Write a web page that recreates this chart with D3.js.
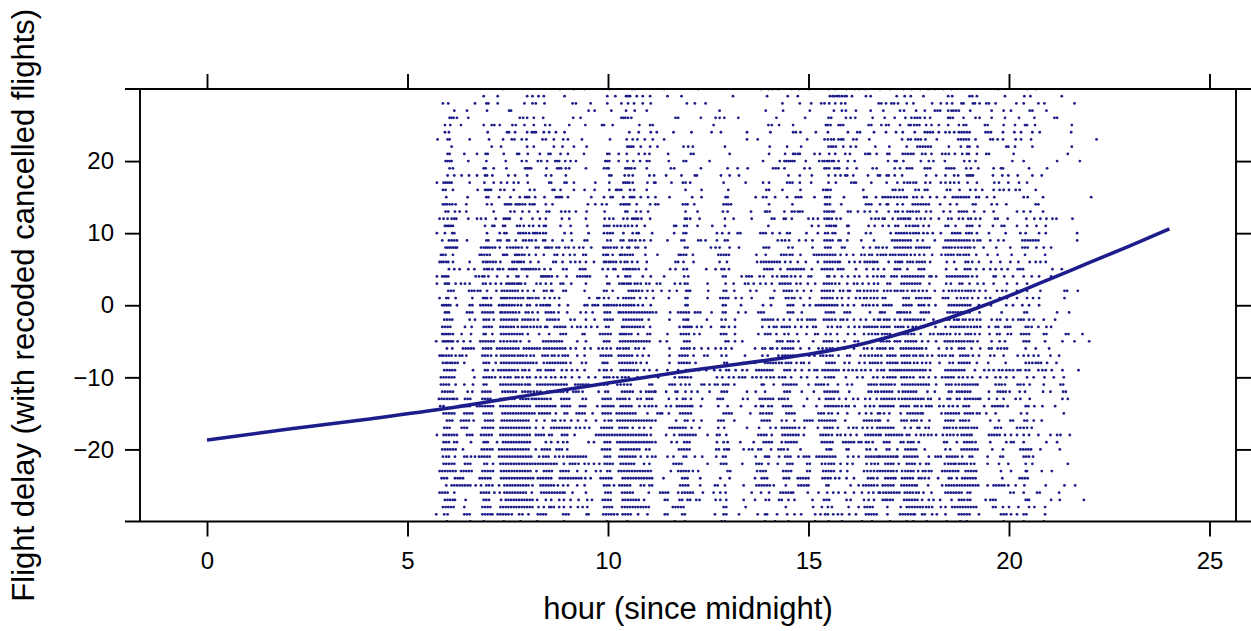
<!DOCTYPE html>
<html><head><meta charset="utf-8">
<script src="https://cdn.jsdelivr.net/npm/d3@7"></script>
<style>
body{margin:0;background:#fff}
svg{display:block}
text{font-family:"Liberation Sans",Arial,Helvetica,sans-serif;fill:#000}
</style></head>
<body><svg id="chart" width="1251" height="631"></svg>
<script>
// Flight delay (minutes) rows, top to bottom
const delays = [30,29,28,27,26,25,24,23,22,21,20,19,18,17,16,15,14,13,12,11,10,9,8,7,6,5,4,3,2,1,0,
  -1,-2,-3,-4,-5,-6,-7,-8,-9,-10,-11,-12,-13,-14,-15,-16,-17,-18,-19,-20,-21,-22,-23,-24,-25,-26,-27,-28,-29,-30];
// Departure times (minutes after midnight) of the flights in each delay row
const depMinutes = [
"443 528 549 565 602 636 640 684 735 829 840 846 855 875 886 901 930 940 957 969 976 985 1007 1022 1042 1054 1067 1079 1089 1102 1114 1184 1227 1240",
"414 435 479 487 496 504 535 599 611 627 630 633 643 652 663 689 710 787 838 869 884 932 936 939 943 946 950 954 957 965 986 993 1032 1044 1053 1072 1109 1115 1141 1145 1152 1194 1223 1232 1279",
"353 361 401 418 421 435 475 487 492 505 547 552 574 599 620 630 639 652 664 718 730 746 861 887 904 919 924 931 940 949 955 1005 1009 1016 1024 1028 1034 1047 1057 1085 1098 1107 1115 1129 1132 1146 1149 1156 1166 1170 1180 1211 1222 1244 1253 1298",
"370 389 419 452 455 571 580 605 627 640 658 767 836 862 902 938 950 956 971 993 1012 1037 1043 1061 1074 1089 1093 1097 1109 1114 1117 1121 1125 1142 1174 1192 1203 1231 1235 1256",
"363 366 369 374 391 468 473 479 489 503 548 559 620 623 626 630 635 701 705 739 761 767 774 795 852 895 930 934 956 963 970 996 1014 1029 1045 1054 1059 1063 1067 1074 1082 1109 1112 1116 1132 1150 1156 1174 1194 1215 1238 1268 1272",
"356 364 380 414 426 430 438 457 462 475 489 506 513 542 566 591 594 607 647 663 667 758 840 845 856 877 926 929 933 945 948 952 990 994 1009 1016 1020 1037 1050 1053 1058 1062 1066 1076 1084 1095 1109 1125 1132 1136 1164 1168 1192 1209 1224 1227 1239 1294",
"356 362 420 449 452 461 479 486 489 492 504 512 522 535 632 646 664 673 698 725 755 769 808 843 877 881 888 911 929 959 973 977 998 1016 1031 1041 1059 1074 1078 1082 1086 1095 1105 1111 1118 1125 1129 1133 1137 1141 1165 1169 1173 1191 1208 1218 1235 1246 1293",
"345 360 363 393 422 443 456 460 471 478 502 507 519 533 540 561 603 628 637 644 655 667 684 808 824 898 924 929 934 938 945 949 952 967 972 991 1040 1049 1053 1060 1064 1068 1075 1092 1124 1128 1132 1136 1140 1150 1172 1176 1183 1191 1210 1218 1233 1331",
"366 426 440 479 489 519 532 549 568 629 632 635 638 649 663 674 713 720 727 775 842 868 889 930 934 937 941 952 963 971 1000 1021 1047 1063 1067 1071 1075 1079 1083 1110 1128 1138 1141 1153 1196 1199 1209 1235 1294",
"360 363 385 404 417 420 444 464 467 480 498 511 514 529 540 564 599 602 616 628 646 655 662 690 724 728 782 841 865 877 880 884 887 909 917 931 940 955 962 985 989 992 1002 1018 1021 1041 1045 1049 1053 1057 1070 1075 1084 1100 1105 1110 1119 1130 1137 1140 1152 1166 1170 1207 1288",
"357 360 363 366 391 418 447 471 478 495 500 509 521 524 527 536 544 552 596 599 602 616 629 638 648 658 662 691 713 717 752 832 857 864 867 870 873 876 879 896 916 921 924 928 931 935 938 945 959 969 1019 1029 1032 1042 1068 1080 1087 1104 1133 1141 1150 1205 1222 1272 1306",
"363 368 414 417 429 448 476 479 482 485 508 524 527 530 537 542 567 594 598 601 626 629 632 635 640 658 694 699 739 779 794 809 847 851 855 864 894 902 924 927 931 939 943 946 958 972 996 1002 1029 1037 1047 1051 1055 1074 1078 1082 1106 1110 1114 1118 1136 1143 1154 1177 1188 1191 1230 1257",
"360 370 381 392 404 416 419 427 451 461 479 507 515 537 602 605 625 631 637 662 669 687 710 730 733 769 782 796 870 887 905 930 940 948 955 958 967 989 1004 1007 1017 1020 1029 1040 1076 1091 1105 1118 1124 1137 1140 1143 1146 1176 1190 1199 1213 1235 1249",
"344 354 357 360 363 366 393 415 429 440 449 459 466 480 512 515 535 538 549 581 602 623 626 629 632 637 659 669 671 695 712 716 723 773 806 832 841 868 872 876 887 904 930 941 964 968 971 994 1017 1033 1043 1048 1052 1057 1061 1075 1082 1098 1105 1112 1118 1125 1138 1152 1178 1185 1199 1215 1227",
"353 357 368 405 416 419 422 425 439 445 459 483 490 517 520 529 549 565 580 602 612 614 617 620 633 639 658 716 740 780 837 841 861 888 922 926 929 933 982 1026 1030 1036 1041 1060 1065 1074 1078 1107 1112 1126 1142 1150 1160 1177 1186 1192 1200 1210 1216 1240",
"358 390 418 421 437 454 468 476 479 482 491 505 522 525 528 531 540 575 594 604 607 623 633 636 639 649 660 671 692 726 740 776 779 821 832 837 850 868 881 885 889 909 925 928 932 953 983 987 1001 1011 1015 1019 1023 1028 1033 1038 1043 1047 1057 1062 1070 1082 1092 1104 1116 1120 1124 1128 1132 1136 1140 1151 1155 1167 1178 1222 1228 1251 1323",
"353 356 359 363 367 372 388 419 426 446 449 452 455 462 465 468 472 476 483 487 490 507 517 570 581 591 598 619 623 626 629 632 643 663 671 675 712 716 719 729 773 777 780 784 841 876 925 928 932 949 986 990 994 1007 1017 1019 1033 1041 1056 1060 1064 1068 1072 1076 1080 1097 1112 1122 1146 1150 1174 1182 1196 1240 1244",
"357 361 371 378 388 429 454 460 472 482 495 508 512 530 536 542 552 568 595 626 629 642 649 660 716 734 772 779 814 835 838 842 864 875 879 884 887 891 924 928 931 935 938 959 963 974 984 992 1002 1020 1030 1034 1041 1048 1052 1056 1061 1065 1076 1083 1102 1112 1125 1129 1133 1137 1148 1163 1177 1212 1222 1232 1251",
"348 354 360 366 370 373 391 404 410 417 432 444 447 450 453 470 487 498 507 531 542 567 595 602 608 623 629 636 639 642 645 650 663 715 718 723 737 775 788 815 845 849 863 866 875 900 907 914 924 928 931 935 942 948 994 1000 1005 1011 1014 1026 1034 1038 1042 1045 1049 1052 1062 1068 1074 1083 1095 1109 1114 1125 1131 1139 1143 1150 1157 1179 1183 1198 1226 1238 1247 1256 1265 1271 1295",
"356 359 362 365 368 416 427 430 443 446 464 468 474 482 488 497 504 507 529 544 569 594 598 602 609 614 619 625 630 636 643 655 699 702 714 718 734 756 775 840 905 915 927 931 934 938 941 958 960 990 999 1011 1020 1030 1034 1046 1051 1056 1060 1064 1072 1080 1105 1109 1120 1137 1141 1145 1156 1176 1189 1193 1212 1227 1241 1255",
"344 356 367 370 419 438 445 448 466 469 473 477 482 488 491 494 498 503 507 535 545 571 594 599 603 607 623 637 643 646 666 699 713 717 763 771 781 794 798 828 832 836 846 857 868 872 897 914 925 929 936 940 960 986 993 1023 1031 1035 1039 1043 1047 1052 1057 1061 1065 1072 1078 1086 1098 1115 1119 1123 1127 1136 1140 1144 1152 1170 1195 1217 1225 1245 1255 1302",
"352 362 366 370 374 389 418 421 435 439 449 452 462 473 477 482 486 492 503 506 517 532 546 565 569 599 604 619 623 632 636 641 648 654 664 689 710 714 735 739 746 763 775 779 854 860 865 871 886 896 906 924 928 932 936 945 948 958 979 998 1025 1029 1033 1037 1041 1045 1049 1053 1063 1071 1089 1105 1109 1113 1117 1121 1125 1129 1133 1137 1141 1147 1153 1157 1172 1184 1192 1220 1224 1228 1232 1236 1240 1244 1302",
"357 360 363 366 369 372 374 410 414 417 420 423 427 431 438 449 454 458 462 466 471 479 492 496 506 509 512 516 523 527 536 541 549 557 563 575 593 596 600 604 609 613 621 629 632 641 645 656 715 719 754 761 767 782 796 833 837 841 870 876 906 925 929 933 950 954 982 992 1001 1005 1011 1017 1029 1033 1037 1041 1045 1049 1053 1061 1065 1069 1073 1077 1081 1102 1106 1110 1114 1119 1124 1129 1134 1138 1142 1148 1162 1181 1202 1220 1224 1228 1241 1252 1263",
"350 353 357 368 408 411 415 419 423 443 446 449 461 464 467 471 475 482 492 504 520 524 533 543 550 563 567 593 597 600 607 618 621 625 629 633 637 656 674 706 709 713 717 727 765 769 773 777 781 822 836 859 863 867 872 876 888 908 912 916 920 924 928 932 936 940 948 957 967 979 984 991 995 1003 1008 1012 1016 1022 1026 1030 1035 1039 1043 1047 1053 1059 1066 1073 1085 1099 1105 1109 1113 1117 1123 1127 1132 1136 1140 1151 1168 1183 1204 1224 1254",
"348 351 354 358 361 368 393 413 417 420 424 428 432 439 457 460 464 467 470 474 484 496 518 522 532 544 551 558 567 579 594 597 601 604 608 612 619 625 629 636 644 658 701 705 713 728 767 778 823 829 833 837 841 845 849 853 857 865 873 884 896 914 924 928 932 936 940 944 947 961 969 977 984 988 992 996 999 1003 1020 1030 1034 1037 1040 1048 1052 1056 1062 1066 1070 1074 1082 1107 1118 1135 1139 1145 1155 1173 1187 1202 1214 1231 1240 1247 1255",
"362 370 378 391 400 415 419 422 427 435 438 443 452 456 459 463 471 475 478 481 484 488 492 497 505 514 533 538 558 562 566 592 600 608 611 623 627 630 633 637 641 646 657 693 701 713 718 747 761 770 774 781 834 838 842 846 858 869 873 877 881 885 889 893 905 920 924 928 932 936 944 948 952 971 987 997 1004 1013 1029 1033 1037 1048 1065 1069 1073 1106 1121 1134 1138 1142 1151 1162 1172 1180 1189 1198 1213 1217 1221 1265 1279",
"344 352 355 358 361 402 407 412 415 421 434 450 463 466 479 500 503 506 509 512 516 524 538 554 558 562 566 569 573 598 615 626 629 633 652 664 684 714 720 772 776 800 807 811 815 827 833 846 853 860 864 868 874 880 888 900 904 928 931 939 950 959 969 976 988 997 1003 1009 1013 1024 1028 1032 1040 1044 1048 1052 1056 1060 1064 1068 1072 1081 1084 1091 1107 1111 1115 1119 1123 1127 1131 1135 1139 1145 1152 1177 1180 1193 1206 1222 1234 1245 1263",
"344 356 359 362 372 380 386 393 413 417 424 432 440 448 451 454 457 460 464 467 470 476 493 499 507 515 529 533 545 567 599 602 617 621 624 628 631 634 640 644 649 657 662 673 678 700 708 715 719 749 776 788 805 810 818 828 836 845 857 861 865 869 873 882 888 899 910 923 927 931 935 940 946 958 968 973 981 990 998 1004 1018 1022 1039 1043 1047 1051 1055 1059 1063 1067 1081 1106 1113 1126 1130 1141 1153 1162 1177 1197 1212 1227",
"361 365 369 392 396 400 405 409 419 433 441 445 449 453 457 461 465 472 480 489 504 508 515 517 533 537 565 594 598 607 631 635 638 642 646 651 659 667 680 692 703 717 720 723 750 773 777 789 813 822 849 863 867 871 875 883 893 904 920 924 928 932 937 947 952 959 962 973 977 983 988 993 998 1003 1013 1018 1023 1029 1033 1038 1042 1048 1055 1059 1065 1071 1077 1089 1102 1110 1115 1120 1125 1130 1135 1139 1143 1148 1156 1165 1182 1190 1196 1212 1217 1227 1247 1283 1287 1303",
"348 358 361 372 397 413 416 419 425 440 443 446 449 453 457 461 465 469 473 480 483 487 492 496 505 513 520 527 572 584 587 594 601 615 623 627 631 635 639 648 657 668 691 716 719 749 768 772 776 780 791 800 815 843 847 866 870 875 879 888 902 920 924 928 932 936 943 950 960 971 977 983 987 993 998 1003 1011 1015 1042 1046 1050 1061 1065 1069 1074 1078 1082 1101 1105 1109 1122 1128 1133 1138 1145 1154 1165 1172 1186 1197 1212 1227 1236 1245 1283",
"352 355 358 361 364 374 393 397 409 413 417 421 425 437 441 444 448 452 456 460 465 470 479 483 493 499 503 507 510 513 527 540 565 569 577 581 585 594 598 601 605 609 613 618 623 627 631 635 639 645 652 664 716 719 772 776 799 832 844 869 873 877 893 902 911 915 919 923 927 931 935 939 943 951 959 968 981 986 991 997 1003 1012 1016 1020 1024 1042 1046 1050 1054 1065 1069 1073 1080 1090 1110 1114 1118 1122 1126 1130 1134 1138 1142 1155 1173 1196 1206 1220 1230 1245",
"356 359 362 389 393 397 412 416 420 424 428 439 442 446 450 454 458 462 467 477 481 487 495 507 511 515 519 526 539 559 567 577 595 599 603 616 619 623 627 631 635 639 643 647 651 655 659 663 667 672 693 705 709 713 717 721 730 734 738 755 772 776 795 806 825 829 833 869 873 877 890 926 930 934 938 954 958 962 992 1007 1010 1014 1033 1036 1039 1043 1047 1052 1068 1072 1076 1080 1108 1112 1116 1120 1124 1128 1132 1136 1141 1156 1189 1223 1227 1272 1290",
"355 359 363 367 393 401 414 418 422 429 440 444 448 452 456 460 464 472 476 480 484 489 495 509 513 517 521 526 544 550 567 580 595 599 603 607 623 627 631 635 639 643 647 651 661 692 713 717 720 748 770 776 790 831 835 839 843 847 854 863 872 884 890 898 902 906 910 923 927 931 935 940 948 952 958 968 978 986 998 1004 1007 1013 1017 1021 1029 1037 1044 1048 1052 1056 1060 1064 1068 1073 1087 1103 1107 1111 1118 1122 1125 1131 1135 1141 1146 1152 1157 1174 1182 1187 1197 1206 1214 1218 1222 1230 1237 1252 1269",
"352 356 360 364 386 396 414 418 422 426 439 443 447 451 455 459 465 471 475 479 484 489 494 499 506 509 520 524 528 532 536 546 554 559 567 575 584 597 601 621 624 628 632 636 640 644 648 653 663 707 713 716 719 722 725 733 740 754 770 774 781 790 831 841 848 852 860 864 868 872 880 889 898 907 911 929 935 943 948 960 969 976 983 987 991 995 999 1003 1009 1013 1017 1021 1030 1034 1038 1042 1049 1056 1061 1068 1073 1090 1105 1113 1117 1121 1125 1129 1133 1138 1143 1148 1152 1157 1170 1180 1184 1194 1198 1202 1225 1229 1234 1244 1256 1263",
"352 355 358 361 364 368 381 395 414 417 427 440 444 448 452 456 460 464 468 472 480 497 512 529 533 537 562 565 588 592 596 600 604 618 621 624 627 631 635 645 659 663 689 709 713 717 721 729 737 769 773 777 790 825 835 839 843 852 864 870 883 897 910 914 926 933 943 959 969 983 990 995 1000 1004 1010 1014 1018 1022 1033 1037 1041 1045 1049 1054 1058 1068 1082 1087 1094 1098 1102 1107 1112 1120 1126 1135 1139 1143 1149 1156 1171 1182 1186 1198 1203 1218 1222 1226 1230 1252 1256 1285 1289 1310",
"343 353 356 359 362 365 368 375 384 394 409 413 417 421 425 429 439 444 449 454 459 463 469 482 503 507 511 515 519 523 527 531 554 567 594 598 602 618 622 626 630 634 638 642 646 650 654 658 662 678 688 714 718 722 776 780 790 801 853 857 861 869 873 877 885 907 923 927 931 935 944 954 969 974 1008 1012 1017 1021 1029 1033 1037 1045 1049 1053 1057 1061 1070 1079 1091 1104 1108 1112 1116 1121 1125 1129 1133 1138 1142 1146 1153 1174 1186 1194 1222 1226 1230 1254 1280 1298 1320",
"359 367 383 387 391 395 399 413 417 421 425 434 438 442 446 450 454 458 462 466 474 478 482 486 490 494 498 504 508 512 516 520 524 528 532 536 544 552 565 574 586 592 598 604 614 618 623 627 631 641 646 654 692 710 714 718 722 729 740 750 761 769 776 785 820 831 835 843 846 853 861 865 869 873 877 888 901 915 921 927 932 936 945 954 968 983 988 995 1003 1007 1011 1015 1022 1026 1038 1042 1046 1050 1054 1058 1062 1066 1070 1076 1095 1107 1114 1125 1129 1133 1144 1157 1170 1174 1183 1188 1193 1197 1225 1240 1260",
"348 351 354 358 362 366 372 378 382 388 412 416 420 425 433 440 444 448 452 456 460 465 469 473 478 484 489 502 506 510 516 520 526 532 536 540 554 565 589 593 597 601 605 616 620 624 628 632 636 644 652 661 692 707 711 715 719 728 744 749 770 777 805 831 839 855 861 865 869 873 877 885 889 901 909 918 922 927 932 936 945 958 962 978 984 990 995 1000 1004 1009 1018 1022 1026 1030 1039 1043 1047 1051 1057 1061 1067 1071 1078 1085 1095 1100 1105 1112 1116 1127 1131 1135 1139 1146 1155 1172 1178 1192 1213 1222 1229 1237 1244 1262 1275",
"353 357 360 364 367 371 375 385 414 418 422 432 440 444 448 452 456 460 464 468 472 476 480 484 488 493 504 509 513 517 521 525 529 533 537 544 561 567 592 595 599 617 621 625 629 633 637 642 649 658 692 706 710 714 718 722 731 774 778 803 820 835 839 843 847 851 856 860 866 870 874 882 889 893 901 927 931 935 939 954 961 976 984 992 996 1000 1004 1009 1018 1022 1026 1030 1033 1040 1044 1048 1052 1058 1063 1070 1076 1082 1096 1111 1116 1125 1129 1133 1137 1141 1152 1169 1195 1225 1230 1235 1240 1244 1248 1257 1271",
"355 359 363 367 371 398 416 420 428 436 440 444 448 452 456 460 465 472 476 482 495 499 507 511 515 519 531 538 546 554 565 587 594 598 605 619 623 627 631 635 639 644 654 662 673 689 705 717 721 729 736 747 759 768 777 781 791 801 808 822 826 830 834 838 842 846 864 868 872 880 890 901 909 913 921 925 929 933 937 941 945 953 960 966 972 979 985 993 1003 1009 1013 1022 1026 1030 1033 1036 1039 1043 1047 1051 1055 1059 1063 1067 1071 1075 1082 1105 1109 1113 1117 1121 1125 1129 1133 1149 1163 1170 1177 1185 1190 1196 1201 1206 1213 1217 1225 1230 1244 1250 1255 1264 1280 1304",
"350 354 358 362 366 370 400 414 418 422 426 431 439 445 450 454 462 466 472 479 483 492 499 507 515 521 530 536 546 557 571 581 594 598 602 608 614 621 626 631 644 654 675 700 707 711 715 719 724 763 771 781 788 796 801 805 816 822 829 837 843 848 856 861 865 874 889 898 913 925 930 934 938 956 973 981 997 1003 1012 1018 1022 1026 1030 1039 1043 1047 1052 1057 1067 1072 1080 1090 1100 1105 1109 1113 1117 1125 1131 1138 1145 1157 1167 1180 1187 1196 1207 1227 1237 1253 1267 1282",
"350 354 358 362 372 385 398 414 418 439 443 447 451 455 459 463 467 471 476 480 483 494 498 502 506 510 514 518 522 526 530 534 538 551 555 559 563 567 571 594 599 614 619 624 629 634 662 666 692 696 700 709 716 722 740 744 752 760 764 772 776 780 789 830 833 848 862 866 870 874 878 882 900 911 915 919 923 929 944 958 965 990 994 998 1002 1008 1012 1016 1020 1024 1029 1040 1044 1048 1052 1056 1060 1064 1068 1072 1076 1080 1091 1106 1110 1114 1120 1125 1130 1134 1138 1142 1146 1150 1153 1180 1185 1189 1194 1213 1217 1222 1231 1252 1277 1281",
"352 356 360 364 368 390 397 412 416 420 424 442 446 450 454 458 462 472 476 480 484 489 494 499 509 513 517 521 525 529 533 539 548 552 556 562 586 596 600 621 625 629 633 637 649 657 661 665 669 671 687 701 704 716 725 734 752 770 774 778 808 821 835 864 868 872 890 908 924 928 932 936 940 944 961 990 994 1000 1004 1009 1013 1017 1021 1025 1035 1041 1045 1049 1053 1057 1061 1078 1089 1110 1114 1122 1126 1130 1134 1138 1142 1170 1183 1187 1191 1195 1201 1216 1224 1251 1262 1281 1285",
"347 351 355 359 363 367 370 374 386 390 394 412 416 420 424 439 443 447 452 456 460 469 473 477 481 486 490 493 497 501 505 509 514 530 534 538 542 562 567 592 596 600 604 614 618 622 626 632 644 649 658 662 666 691 703 712 716 724 741 764 768 772 802 809 827 831 835 839 843 847 856 860 864 869 898 916 926 930 934 938 946 956 967 974 985 992 1002 1009 1013 1017 1021 1025 1029 1035 1040 1044 1048 1052 1056 1060 1064 1068 1072 1079 1083 1096 1108 1112 1122 1126 1134 1138 1142 1146 1150 1154 1157 1170 1182 1192 1210 1217 1231 1280 1288",
"349 354 385 389 393 404 408 412 416 420 424 428 439 443 447 451 455 459 463 467 471 475 479 483 493 497 501 505 509 513 517 521 531 535 539 543 558 562 566 584 592 596 600 604 608 619 623 627 631 635 647 655 661 666 672 687 694 703 707 711 715 719 723 726 739 765 779 799 821 829 832 840 845 862 866 870 874 893 912 925 929 933 937 941 945 950 956 960 969 985 992 998 1007 1011 1015 1019 1023 1027 1038 1042 1046 1050 1059 1063 1069 1076 1080 1084 1096 1102 1110 1116 1123 1132 1136 1140 1163 1175 1179 1183 1187 1191 1198 1225 1229 1238 1250 1269",
"354 358 362 366 370 385 389 393 397 414 418 422 426 442 446 450 454 458 462 466 470 474 478 482 486 490 497 501 505 509 513 522 535 539 553 557 561 565 577 592 596 600 604 613 617 621 625 629 633 637 641 659 674 678 681 691 708 712 716 720 724 773 777 781 785 813 828 832 837 841 845 867 871 875 879 915 919 923 930 935 944 958 976 986 994 1004 1007 1013 1021 1038 1048 1052 1056 1060 1064 1068 1071 1099 1105 1109 1113 1117 1121 1125 1134 1138 1142 1146 1152 1156 1166 1180 1218 1227 1282",
"359 363 367 380 384 388 392 399 416 420 424 428 441 445 449 453 457 461 465 469 473 477 481 493 505 517 521 529 535 545 555 567 582 595 601 605 614 618 622 626 630 634 638 642 646 650 654 658 662 666 671 702 715 719 728 740 765 769 773 789 830 834 838 842 860 867 879 894 898 902 906 916 920 924 928 932 936 940 955 983 987 991 995 1000 1004 1007 1019 1039 1043 1047 1054 1058 1062 1069 1081 1105 1109 1113 1117 1127 1131 1135 1140 1172 1185 1202 1206 1223 1227 1237 1249",
"355 359 363 381 385 389 412 416 420 424 428 439 443 447 451 455 459 463 467 471 475 479 483 492 503 515 519 523 527 531 535 539 543 552 558 565 572 590 594 598 602 606 617 621 625 629 637 647 654 664 692 696 700 704 708 712 716 725 737 765 774 808 826 843 851 860 864 868 872 876 880 886 894 914 924 928 932 936 944 960 967 972 981 988 995 1003 1007 1011 1015 1019 1023 1027 1044 1053 1063 1066 1075 1080 1103 1107 1111 1116 1121 1127 1131 1135 1139 1144 1148 1152 1179 1183 1188 1212 1217 1222 1227 1234",
"344 354 358 362 366 370 374 389 393 397 410 414 418 422 426 439 443 447 451 455 459 463 467 471 475 479 483 492 496 500 504 512 516 531 535 539 550 582 586 590 594 598 602 606 610 614 618 622 626 630 634 638 642 646 650 654 658 664 687 699 707 711 715 719 723 727 731 749 763 767 777 825 829 833 837 845 861 865 869 873 877 881 885 893 918 922 926 930 935 943 948 955 963 972 985 989 993 997 1001 1005 1008 1016 1020 1024 1028 1032 1036 1040 1047 1051 1061 1068 1073 1079 1084 1091 1101 1107 1112 1117 1123 1129 1133 1137 1141 1144 1170 1174 1178 1182 1186 1194 1203 1212 1222 1230 1244 1262 1272 1277 1291",
"354 358 362 370 374 395 414 417 420 434 443 447 451 455 459 463 467 471 475 479 483 507 515 525 533 539 571 579 595 599 603 614 618 622 626 630 634 638 642 646 650 654 658 662 666 671 695 703 714 718 722 763 773 779 798 818 833 837 841 845 860 866 870 874 878 882 920 924 928 932 936 952 956 960 964 968 975 979 986 990 996 1013 1017 1021 1038 1042 1049 1053 1057 1065 1103 1107 1122 1133 1137 1141 1145 1150 1172 1196 1203 1207 1222 1256 1272",
"352 356 360 364 368 372 383 411 415 419 423 427 437 441 445 449 453 457 461 465 469 473 477 481 492 501 505 509 513 523 527 531 539 591 595 599 603 619 623 627 631 635 639 643 647 657 662 706 710 714 718 722 762 766 774 778 781 803 811 816 825 829 844 855 859 863 869 888 927 931 934 957 960 987 992 1001 1017 1021 1033 1045 1049 1053 1057 1061 1074 1105 1112 1129 1133 1137 1141 1145 1149 1153 1175 1191 1217 1221 1225 1229 1233 1247 1276",
"353 358 362 371 385 389 395 401 407 411 415 419 423 437 441 445 449 453 457 461 465 469 473 477 481 485 497 503 507 511 521 527 533 539 543 547 551 555 559 563 567 595 599 603 617 621 625 629 633 637 641 649 659 666 671 689 698 713 717 730 741 762 772 776 821 835 838 841 856 865 869 873 885 893 897 901 912 916 920 924 928 932 936 940 959 967 975 986 990 994 998 1002 1005 1007 1011 1015 1019 1023 1027 1031 1033 1043 1047 1051 1055 1059 1063 1080 1090 1094 1098 1107 1111 1115 1119 1123 1130 1141 1145 1168 1187 1191 1222 1226 1230 1236",
"354 358 362 366 370 386 390 394 415 419 428 439 443 447 451 455 459 463 467 471 475 479 483 487 491 495 499 503 507 511 515 519 523 534 543 547 551 556 565 571 579 587 595 599 603 607 619 623 627 631 635 639 654 662 698 702 706 710 749 769 773 777 801 822 826 830 840 854 868 872 876 898 902 920 925 930 934 938 948 958 966 987 994 999 1004 1015 1019 1023 1027 1035 1047 1051 1055 1059 1067 1076 1080 1104 1109 1113 1117 1120 1125 1129 1133 1137 1143 1148 1168 1185 1199 1225 1235 1288",
"348 352 356 360 364 368 372 380 384 388 392 396 412 416 420 424 428 440 444 448 452 456 460 464 468 472 476 480 484 493 504 508 512 516 529 533 537 541 554 567 582 589 599 603 616 620 624 628 632 636 640 644 648 652 656 660 664 694 705 709 713 717 721 727 735 779 783 823 828 832 836 862 866 870 874 898 902 922 926 930 934 938 948 958 983 988 993 998 1003 1007 1011 1015 1019 1023 1027 1032 1040 1045 1049 1053 1057 1064 1071 1075 1080 1084 1100 1104 1108 1112 1116 1120 1124 1135 1139 1143 1147 1151 1188 1203 1225 1227 1249 1264",
"351 355 359 371 375 379 383 408 412 416 420 424 440 444 448 452 456 460 464 468 472 476 480 484 488 495 499 503 507 511 515 528 532 536 540 544 548 552 556 560 566 574 589 593 597 601 605 622 626 630 634 638 642 646 650 654 658 662 666 683 711 715 719 738 768 782 820 830 834 838 863 867 871 884 888 892 896 900 921 925 929 933 940 946 957 968 989 993 997 1003 1015 1019 1023 1027 1030 1040 1044 1048 1052 1056 1065 1069 1074 1080 1094 1110 1114 1122 1130 1134 1138 1142 1146 1150 1190 1216 1220 1224 1228",
"358 366 370 374 378 382 386 390 394 402 410 418 422 427 437 445 449 453 457 461 465 469 473 477 481 487 499 503 507 511 515 519 525 533 540 554 565 594 598 602 609 617 621 625 629 633 649 654 662 666 708 712 716 720 738 760 764 775 803 822 826 830 834 838 842 848 866 885 889 893 897 900 927 930 963 975 982 986 990 994 998 1003 1011 1015 1019 1023 1027 1039 1043 1047 1051 1055 1059 1062 1079 1100 1106 1110 1114 1118 1122 1126 1130 1134 1138 1142 1146 1150 1154 1168 1177 1181 1185 1189 1193 1199 1210 1223 1255 1283 1299",
"348 352 356 360 370 410 414 418 422 430 438 445 449 453 457 461 465 469 473 477 486 500 504 508 512 516 520 524 528 532 535 547 567 596 600 604 621 625 629 633 637 661 678 682 686 690 705 711 715 719 723 727 742 758 768 776 815 829 841 858 862 866 870 874 877 899 915 928 937 945 955 968 980 990 997 1005 1007 1012 1016 1020 1024 1028 1032 1036 1044 1048 1052 1056 1061 1065 1072 1084 1105 1109 1113 1117 1121 1125 1129 1138 1142 1202 1207 1222 1242 1246 1275",
"356 360 364 368 371 387 414 418 422 440 447 451 455 459 463 467 471 475 479 483 487 494 507 515 527 534 544 556 569 576 592 596 600 604 622 626 630 634 638 642 646 654 685 689 707 711 719 723 732 737 761 768 777 803 820 836 841 856 860 870 879 906 923 927 931 957 963 983 990 998 1011 1015 1018 1022 1026 1043 1047 1051 1055 1059 1063 1070 1080 1087 1097 1114 1125 1129 1133 1138 1142 1165 1172 1176 1180 1225 1228 1230 1263 1276 1312",
"353 357 361 365 369 385 412 416 420 424 439 443 447 451 455 459 463 467 471 475 479 483 487 496 504 512 515 519 527 534 544 555 562 569 594 598 602 606 621 625 629 633 637 641 645 649 653 657 661 697 701 705 709 713 773 777 806 866 907 920 929 935 960 975 984 988 992 996 1018 1038 1047 1051 1055 1059 1063 1067 1071 1076 1080 1085 1098 1105 1115 1119 1123 1127 1131 1135 1139 1143 1147 1151 1176 1180 1191 1200 1214 1230 1238 1254",
"343 355 360 385 389 393 412 416 420 424 427 435 439 443 447 451 456 467 472 481 495 499 503 507 533 537 541 568 571 593 597 601 605 609 614 622 626 630 634 645 659 685 689 711 715 760 773 777 796 824 835 838 853 868 879 889 910 918 925 929 937 944 950 961 971 986 990 994 998 1002 1018 1037 1041 1045 1049 1053 1057 1059 1070 1074 1085 1092 1105 1125 1129 1133 1137 1141 1155 1188 1192 1196 1203 1212 1222 1226 1254",
"359 394 414 444 469 494 534 599 629 700 715 770 775 835 850 870 910 930 950 980 995 1022 1047 1057 1077 1107 1127 1137 1192 1222 1252"
];
// Smoothed (loess) trend
const trendHour  = [0, 2, 4, 6, 8, 10, 12, 14, 15, 16, 17, 18, 19, 20, 21, 22, 23, 24];
const trendDelay = [-18.7, -17.2, -15.8, -14.3, -12.5, -10.8, -9.1, -7.6, -6.8, -5.8, -4.4, -2.7, -0.8, 1.3, 3.6, 5.9, 8.2, 10.6];
const xTicks = [0, 5, 10, 15, 20, 25];
const yTicks = [-20, -10, 0, 10, 20];
const xTitle = "hour (since midnight)";
const yTitle = "Flight delay (with recoded cancelled flights)";

const svg = d3.select("#chart");
const L = 140, R = 1236, T = 89, B = 521.5;
const col = "#1c1c8a";
const x = d3.scaleLinear().domain([-1.671, 25.661]).range([L, R]);
const y = d3.scaleLinear().domain([-30, 30]).range([B, T]);

const pts = [];
depMinutes.forEach((s, i) => {
  s.split(" ").forEach(m => pts.push({hour: +m / 60, delay: delays[i]}));
});

svg.append("clipPath").attr("id", "clip")
  .append("rect").attr("x", L).attr("y", T).attr("width", R - L).attr("height", B - T);

svg.append("g").attr("clip-path", "url(#clip)")
  .selectAll("circle").data(pts).join("circle")
  .attr("cx", d => x(d.hour)).attr("cy", d => y(d.delay))
  .attr("r", 1.4).attr("fill", col);

const line = d3.line().x(d => x(d[0])).y(d => y(d[1])).curve(d3.curveMonotoneX);
svg.append("path").datum(trendHour.map((h, i) => [h, trendDelay[i]]))
  .attr("d", line).attr("fill", "none").attr("stroke", col)
  .attr("stroke-width", 3.5).attr("stroke-linecap", "butt");

// axes
function styleAxis(g) {
  g.select(".domain").remove();
  g.selectAll("line").attr("stroke", "#000").attr("stroke-width", 1.9);
  g.selectAll("text").attr("font-size", 24).attr("fill", "#000")
    .attr("font-family", "'Liberation Sans', Arial, sans-serif");
}
svg.append("g").attr("transform", `translate(0,${B})`)
  .call(d3.axisBottom(x).tickValues(xTicks).tickSize(15).tickPadding(15).tickFormat(d3.format("d")))
  .call(styleAxis);
svg.append("g").attr("transform", `translate(0,${T})`)
  .call(d3.axisTop(x).tickValues(xTicks).tickSize(15).tickFormat(""))
  .call(styleAxis);
svg.append("g").attr("transform", `translate(${L},0)`)
  .call(d3.axisLeft(y).tickValues(yTicks).tickSize(15).tickPadding(11).tickFormat(d3.format("d")))
  .call(styleAxis);
svg.append("g").attr("transform", `translate(${R},0)`)
  .call(d3.axisRight(y).tickValues(yTicks).tickSize(15).tickFormat(""))
  .call(styleAxis);

// frame: horizontal edges run past the box like the reference
const frame = svg.append("g").attr("stroke", "#000").attr("stroke-width", 1.9);
frame.append("line").attr("x1", L - 15).attr("x2", R + 15).attr("y1", T).attr("y2", T);
frame.append("line").attr("x1", L - 15).attr("x2", R + 15).attr("y1", B).attr("y2", B);
frame.append("line").attr("x1", L).attr("x2", L).attr("y1", T).attr("y2", B);
frame.append("line").attr("x1", R).attr("x2", R).attr("y1", T).attr("y2", B);

svg.append("text").attr("x", (L + R) / 2).attr("y", 619)
  .attr("text-anchor", "middle").attr("font-size", 31).text(xTitle);
svg.append("text").attr("transform", `translate(34,${(T + B) / 2}) rotate(-90)`)
  .attr("text-anchor", "middle").attr("font-size", 31).text(yTitle);
</script></body></html>
